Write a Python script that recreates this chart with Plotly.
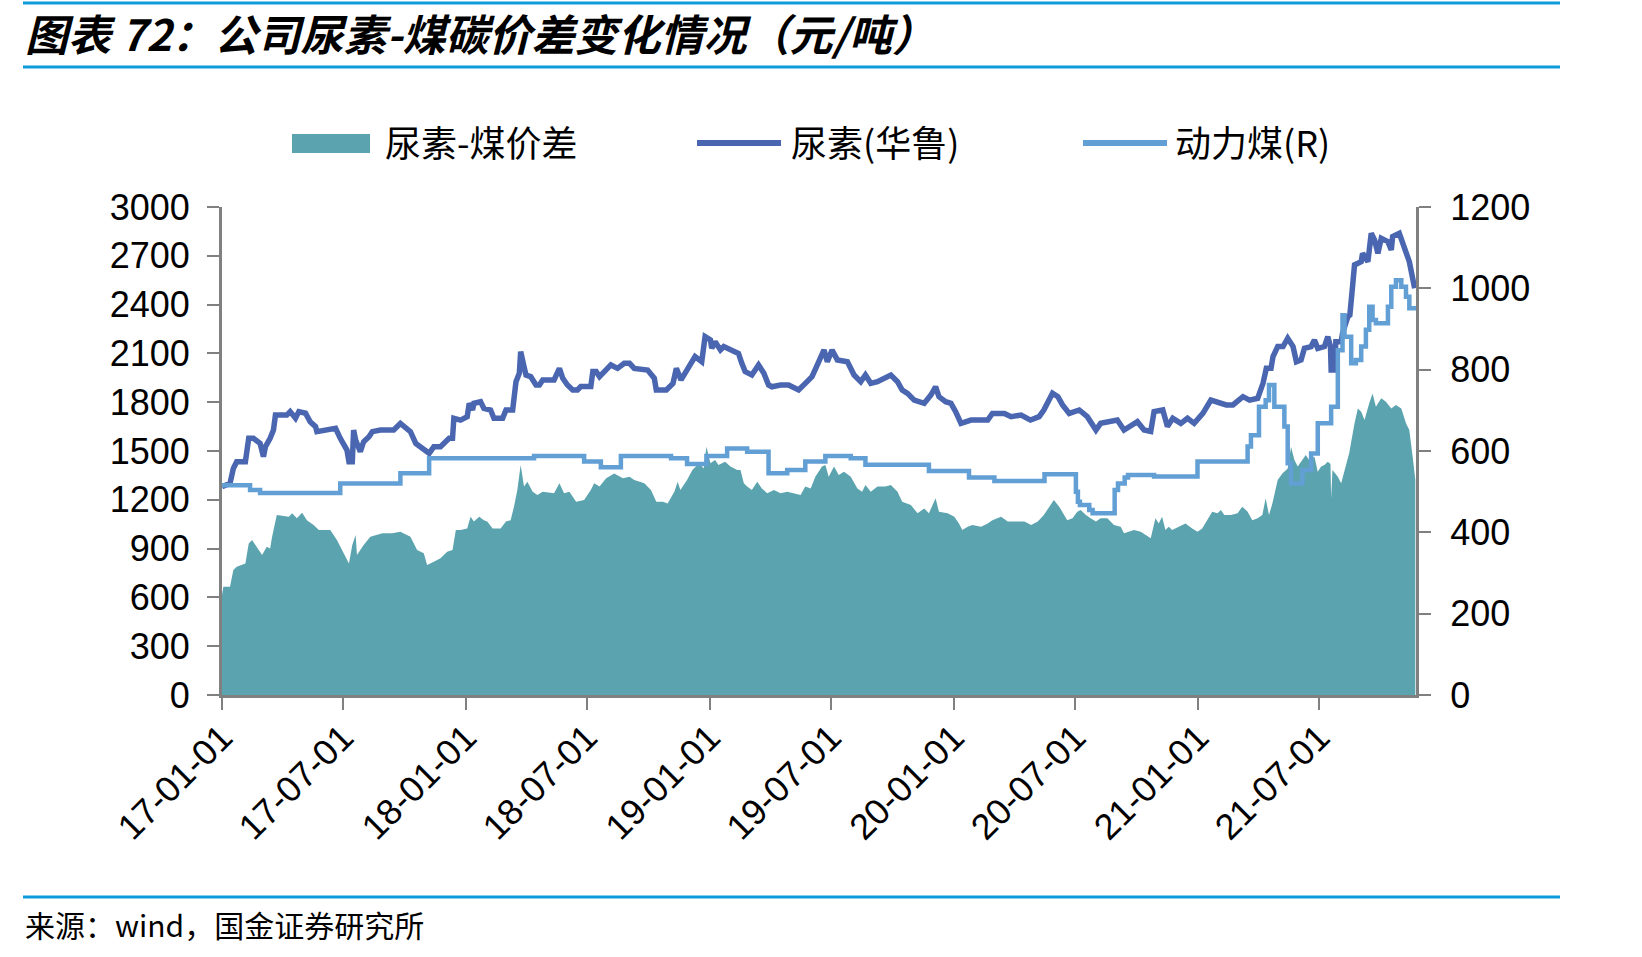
import pandas as pd
import plotly.graph_objects as go

BASE = "2017-01-01"

# 尿素(华鲁) — left axis, (day offset from 2017-01-01, price)
urea_day = [0, 12, 17, 22, 35, 40, 47, 57, 62, 65, 72, 77, 80, 97, 102, 110, 115, 125, 132, 140, 142, 162, 170, 177, 187, 190, 195, 197, 200, 207, 212, 220, 225, 237, 257, 267, 275, 282, 290, 302, 310, 317, 327, 340, 345, 347, 357, 367, 370, 375, 377, 387, 392, 402, 407, 420, 425, 435, 437, 440, 445, 447, 452, 455, 462, 470, 475, 480, 497, 505, 510, 517, 525, 532, 537, 552, 555, 560, 565, 572, 582, 592, 602, 610, 617, 637, 647, 650, 665, 675, 680, 687,
            696, 708, 718, 723, 731, 733, 738, 746, 751, 763, 773, 778, 783, 793, 803, 811, 818, 823, 836, 848, 863, 873, 883, 891, 901, 906, 913, 921, 936, 946, 956, 963, 971, 981, 991, 1001, 1011, 1018, 1026, 1036, 1051, 1061, 1068, 1073, 1083, 1091, 1098, 1106, 1121, 1146, 1153, 1171, 1181, 1196, 1210, 1223, 1230, 1238, 1243, 1251, 1258, 1268, 1283, 1295, 1308, 1315, 1335, 1340, 1350, 1358, 1370, 1380, 1390,
            1395, 1408, 1415, 1423, 1435, 1445, 1455, 1468, 1480, 1490, 1503, 1513, 1528, 1538, 1550, 1558, 1563, 1570, 1573, 1580, 1588, 1595, 1603, 1608, 1615, 1620, 1630, 1635, 1640, 1650, 1655, 1659, 1660, 1665, 1667, 1675, 1677, 1685, 1688, 1692, 1695, 1705, 1707, 1715, 1720, 1725, 1730, 1735, 1745, 1750, 1752, 1762, 1767, 1772, 1777, 1785]
urea_val = [1280, 1301, 1393, 1434, 1434, 1578, 1578, 1547, 1465, 1526, 1578, 1629, 1721, 1721, 1742, 1701, 1742, 1732, 1680, 1650, 1619, 1639, 1639, 1578, 1506, 1434, 1434, 1629, 1568, 1496, 1557, 1588, 1619, 1629, 1629, 1670, 1639, 1619, 1547, 1506, 1486, 1526, 1526, 1578, 1578, 1701, 1690, 1711, 1793, 1752, 1793, 1803, 1762, 1752, 1701, 1701, 1752, 1752, 1844, 1926, 1978, 2111, 2019, 1967, 1957, 1906, 1906, 1937, 1937, 2008, 1947, 1906, 1875, 1875, 1896, 1896, 1988, 1988, 1957, 1988, 2029, 2008, 2039, 2039, 2008, 1998, 1947, 1875, 1875, 1916, 2008, 1937,
            2000, 2080, 2049, 2203, 2183, 2131, 2172, 2121, 2142, 2121, 2100, 2039, 1988, 1967, 2029, 1978, 1906, 1895, 1906, 1906, 1875, 1916, 1957, 2029, 2121, 2049, 2121, 2060, 2049, 1967, 1926, 1967, 1916, 1926, 1947, 1967, 1926, 1875, 1854, 1813, 1793, 1844, 1895, 1834, 1803, 1793, 1742, 1670, 1690, 1690, 1731, 1731, 1711, 1721, 1690, 1711, 1752, 1824, 1855, 1834, 1783, 1731, 1752, 1711, 1629, 1670, 1690, 1690, 1629, 1650, 1680, 1629, 1620,
            1742, 1752, 1650, 1701, 1670, 1701, 1670, 1731, 1813, 1803, 1783, 1783, 1834, 1813, 1824, 1916, 2008, 2008, 2080, 2142, 2142, 2193, 2142, 2049, 2060, 2131, 2142, 2183, 2131, 2142, 2203, 2142, 1998, 1998, 2172, 2172, 2223, 2326, 2336, 2510, 2644, 2664, 2715, 2664, 2838, 2797, 2715, 2808, 2787, 2736, 2818, 2838, 2777, 2705, 2664, 2500]

# 动力煤(R) — right axis, step series
coal_day = [0, 42, 57, 177, 267, 310, 467, 542, 567, 597, 672, 696, 725, 756, 786, 818, 846, 873, 903, 941, 963, 1058, 1118, 1156, 1231, 1278, 1281, 1284, 1298, 1303, 1336, 1341, 1351, 1356, 1395,
            1460, 1535, 1540, 1552, 1562, 1567, 1575, 1590, 1595, 1600, 1617, 1630, 1640, 1660, 1670, 1677, 1680, 1690, 1697, 1705, 1712, 1717, 1722, 1727, 1745, 1750, 1757, 1765, 1772, 1777, 1787]
coal_val = [516, 504, 497, 520, 545, 582, 588, 574, 560, 588, 582, 568, 588, 606, 598, 545, 553, 574, 588, 582, 566, 551, 535, 526, 543, 500, 475, 467, 455, 447, 504, 520, 535, 541, 537,
            574, 611, 639, 709, 725, 762, 709, 660, 570, 520, 553, 594, 668, 709, 848, 934, 881, 816, 824, 857, 898, 955, 922, 914, 955, 1004, 1020, 1004, 979, 951, 951]

# 尿素-煤价差 — left axis, area
spread_day = [0, 2, 12, 17, 22, 35, 40, 45, 50, 60, 67, 72, 75, 82, 100, 105, 112, 120, 127, 137, 145, 157, 162, 172, 182, 190, 195, 200, 202, 207, 212, 222, 240, 255, 267, 282, 292, 302, 307, 317, 327, 337, 345, 350, 357, 367, 372, 377, 385, 392, 397, 405, 417, 425, 432, 437, 442, 447, 452, 457, 465, 472, 480, 497, 505, 512, 520, 530, 542, 552, 557, 565, 575, 587, 600, 610, 617, 632, 642, 650, 660, 667, 677, 682,
              686, 696, 704, 714, 721, 725, 731, 738, 743, 753, 761, 771, 776, 781, 786, 793, 801, 808, 816, 826, 836, 846, 856, 866, 873, 881, 888, 898, 903, 908, 916, 923, 931, 941, 951, 958, 963, 971, 981, 993, 1001, 1011, 1018, 1031, 1041, 1051, 1058, 1068, 1073, 1086, 1096, 1103, 1108, 1116, 1123, 1136, 1146, 1153, 1166, 1176, 1186, 1201, 1211, 1221, 1230, 1238, 1245, 1253, 1260, 1265, 1273, 1280, 1285, 1293, 1300, 1308, 1315, 1325, 1335, 1345, 1350, 1358, 1365, 1375, 1383,
              1390, 1397, 1402, 1407, 1412, 1417, 1422, 1432, 1442, 1452, 1460, 1467, 1475, 1482, 1490, 1495, 1500, 1510, 1520, 1527, 1535, 1542, 1550, 1557, 1562, 1567, 1572, 1580, 1587, 1595, 1600, 1605, 1610, 1617, 1622, 1627, 1635, 1640, 1645, 1650, 1655, 1659, 1660, 1662, 1670, 1675, 1680, 1687, 1695, 1700, 1705, 1710, 1717, 1722, 1727, 1735, 1742, 1750, 1757, 1765, 1772, 1777, 1782, 1786]
spread_val = [614, 666, 666, 768, 789, 809, 932, 953, 922, 860, 912, 901, 973, 1106, 1096, 1117, 1086, 1121, 1075, 1045, 1014, 1014, 1014, 953, 871, 809, 922, 983, 860, 891, 922, 973, 994, 994, 1004, 973, 891, 871, 799, 819, 840, 881, 891, 1014, 1014, 1024, 1096, 1066, 1096, 1075, 1066, 1024, 1024, 1066, 1075, 1158, 1260, 1414, 1281, 1311, 1250, 1229, 1250, 1240, 1301, 1240, 1250, 1188, 1199, 1260, 1301, 1281, 1332, 1362, 1332, 1342, 1322, 1301, 1260, 1188, 1188, 1178, 1250, 1311,
              1260, 1322, 1383, 1424, 1393, 1526, 1424, 1444, 1414, 1434, 1404, 1383, 1383, 1301, 1281, 1260, 1311, 1270, 1240, 1260, 1240, 1250, 1240, 1229, 1281, 1270, 1342, 1404, 1414, 1342, 1404, 1352, 1373, 1342, 1270, 1250, 1291, 1250, 1281, 1281, 1291, 1250, 1188, 1168, 1117, 1147, 1117, 1209, 1127, 1117, 1096, 1055, 1014, 1035, 1045, 1035, 1055, 1075, 1096, 1066, 1066, 1066, 1045, 1066, 1106, 1158, 1199, 1158, 1106, 1075, 1086, 1127, 1137, 1106, 1086, 1066, 1086, 1086, 1045, 1035, 994, 1004, 1014, 1004, 983,
              963, 1086, 1055, 1096, 1014, 1035, 1014, 1035, 1055, 1024, 1004, 1024, 1075, 1127, 1117, 1137, 1106, 1106, 1117, 1158, 1127, 1075, 1086, 1106, 1209, 1106, 1178, 1322, 1362, 1393, 1526, 1444, 1404, 1444, 1475, 1444, 1465, 1373, 1404, 1414, 1434, 1420, 1209, 1383, 1342, 1301, 1383, 1486, 1670, 1762, 1742, 1690, 1793, 1854, 1772, 1824, 1803, 1762, 1783, 1762, 1670, 1629, 1465, 1322]

left_ticks = [0, 300, 600, 900, 1200, 1500, 1800, 2100, 2400, 2700, 3000]
right_ticks = [0, 200, 400, 600, 800, 1000, 1200]
x_end = "2021-11-23"

TITLE = "图表 72：公司尿素-煤碳价差变化情况（元/吨）"
SOURCE = "来源：wind，国金证券研究所"
LEG = ["尿素-煤价差", "尿素(华鲁)", "动力煤(R)"]

C_AREA = "#5BA3AE"
C_UREA = "#4A66B0"
C_COAL = "#629FD5"
C_RULE = "#0E9BDC"
C_AXIS = "#808080"


def to_dates(days):
    return pd.Timestamp(BASE) + pd.to_timedelta(days, unit="D")


W, H = 1642, 957
PL, PR, PT, PB = 222, 1416, 207, 695


def px(x):
    return (x - PL) / (PR - PL)


def py(y):
    return (PB - y) / (PB - PT)


fig = go.Figure()
fig.add_trace(go.Scatter(x=to_dates(spread_day), y=spread_val, name=LEG[0], mode="lines",
                         fill="tozeroy", fillcolor=C_AREA, line=dict(width=0, color=C_AREA),
                         showlegend=False))
fig.add_trace(go.Scatter(x=to_dates(urea_day), y=urea_val, name=LEG[1], mode="lines",
                         line=dict(width=5.5, color=C_UREA), showlegend=False))
fig.add_trace(go.Scatter(x=to_dates(coal_day), y=coal_val, name=LEG[2], mode="lines",
                         line=dict(width=4.5, color=C_COAL, shape="hv"), yaxis="y2",
                         showlegend=False))

tickfont = dict(family="Liberation Sans, Arial, sans-serif", size=36, color="black")
cjk = "Noto Sans CJK SC, sans-serif"

shapes = []
for yy in (3, 67, 897):
    shapes.append(dict(type="line", xref="paper", yref="paper", x0=px(23), x1=px(1560),
                       y0=py(yy), y1=py(yy), line=dict(color=C_RULE, width=3)))
# legend
shapes.append(dict(type="rect", xref="paper", yref="paper", x0=px(292), x1=px(370),
                   y0=py(153), y1=py(134), fillcolor=C_AREA, line=dict(width=0)))
shapes.append(dict(type="line", xref="paper", yref="paper", x0=px(697), x1=px(781),
                   y0=py(143), y1=py(143), line=dict(color=C_UREA, width=6)))
shapes.append(dict(type="line", xref="paper", yref="paper", x0=px(1083), x1=px(1167),
                   y0=py(143), y1=py(143), line=dict(color=C_COAL, width=6)))

annotations = [
    dict(text=TITLE, x=px(23), y=py(32), xref="paper", yref="paper", xanchor="left",
         yanchor="middle", showarrow=False,
         font=dict(family=cjk, size=43, color="black", weight="bold", style="italic")),
    dict(text=SOURCE, x=px(23), y=py(924), xref="paper", yref="paper", xanchor="left",
         yanchor="middle", showarrow=False, font=dict(family=cjk, size=30, color="black")),
]
for txt, xx in zip(LEG, (383, 789, 1173)):
    annotations.append(dict(text=txt, x=px(xx), y=py(141), xref="paper", yref="paper",
                            xanchor="left", yanchor="middle", showarrow=False,
                            font=dict(family=cjk, size=36, color="black")))

fig.update_layout(
    width=W, height=H,
    margin=dict(l=PL, r=W - PR, t=PT, b=H - PB),
    paper_bgcolor="white", plot_bgcolor="white",
    showlegend=False,
    shapes=shapes, annotations=annotations,
    xaxis=dict(type="date", range=[BASE, x_end], tick0=BASE, dtick="M6",
               tickformat="%y-%m-%d", tickangle=-45, tickfont=tickfont,
               ticklabelstandoff=-8,
               showgrid=False, zeroline=False, showline=True, linecolor=C_AXIS, linewidth=3,
               ticks="outside", ticklen=12, tickwidth=2, tickcolor=C_AXIS),
    yaxis=dict(range=[0, 3000], tickvals=left_ticks, tickfont=tickfont, ticklabelstandoff=10,
               showgrid=False, zeroline=False, showline=True, linecolor=C_AXIS, linewidth=3,
               ticks="outside", ticklen=12, tickwidth=2, tickcolor=C_AXIS),
    yaxis2=dict(range=[0, 1200], tickvals=right_ticks, tickfont=tickfont, overlaying="y",
                ticklabelstandoff=12,
                side="right", showgrid=False, zeroline=False, showline=True,
                linecolor=C_AXIS, linewidth=3,
                ticks="outside", ticklen=12, tickwidth=2, tickcolor=C_AXIS),
)

fig.write_html("out.html")
